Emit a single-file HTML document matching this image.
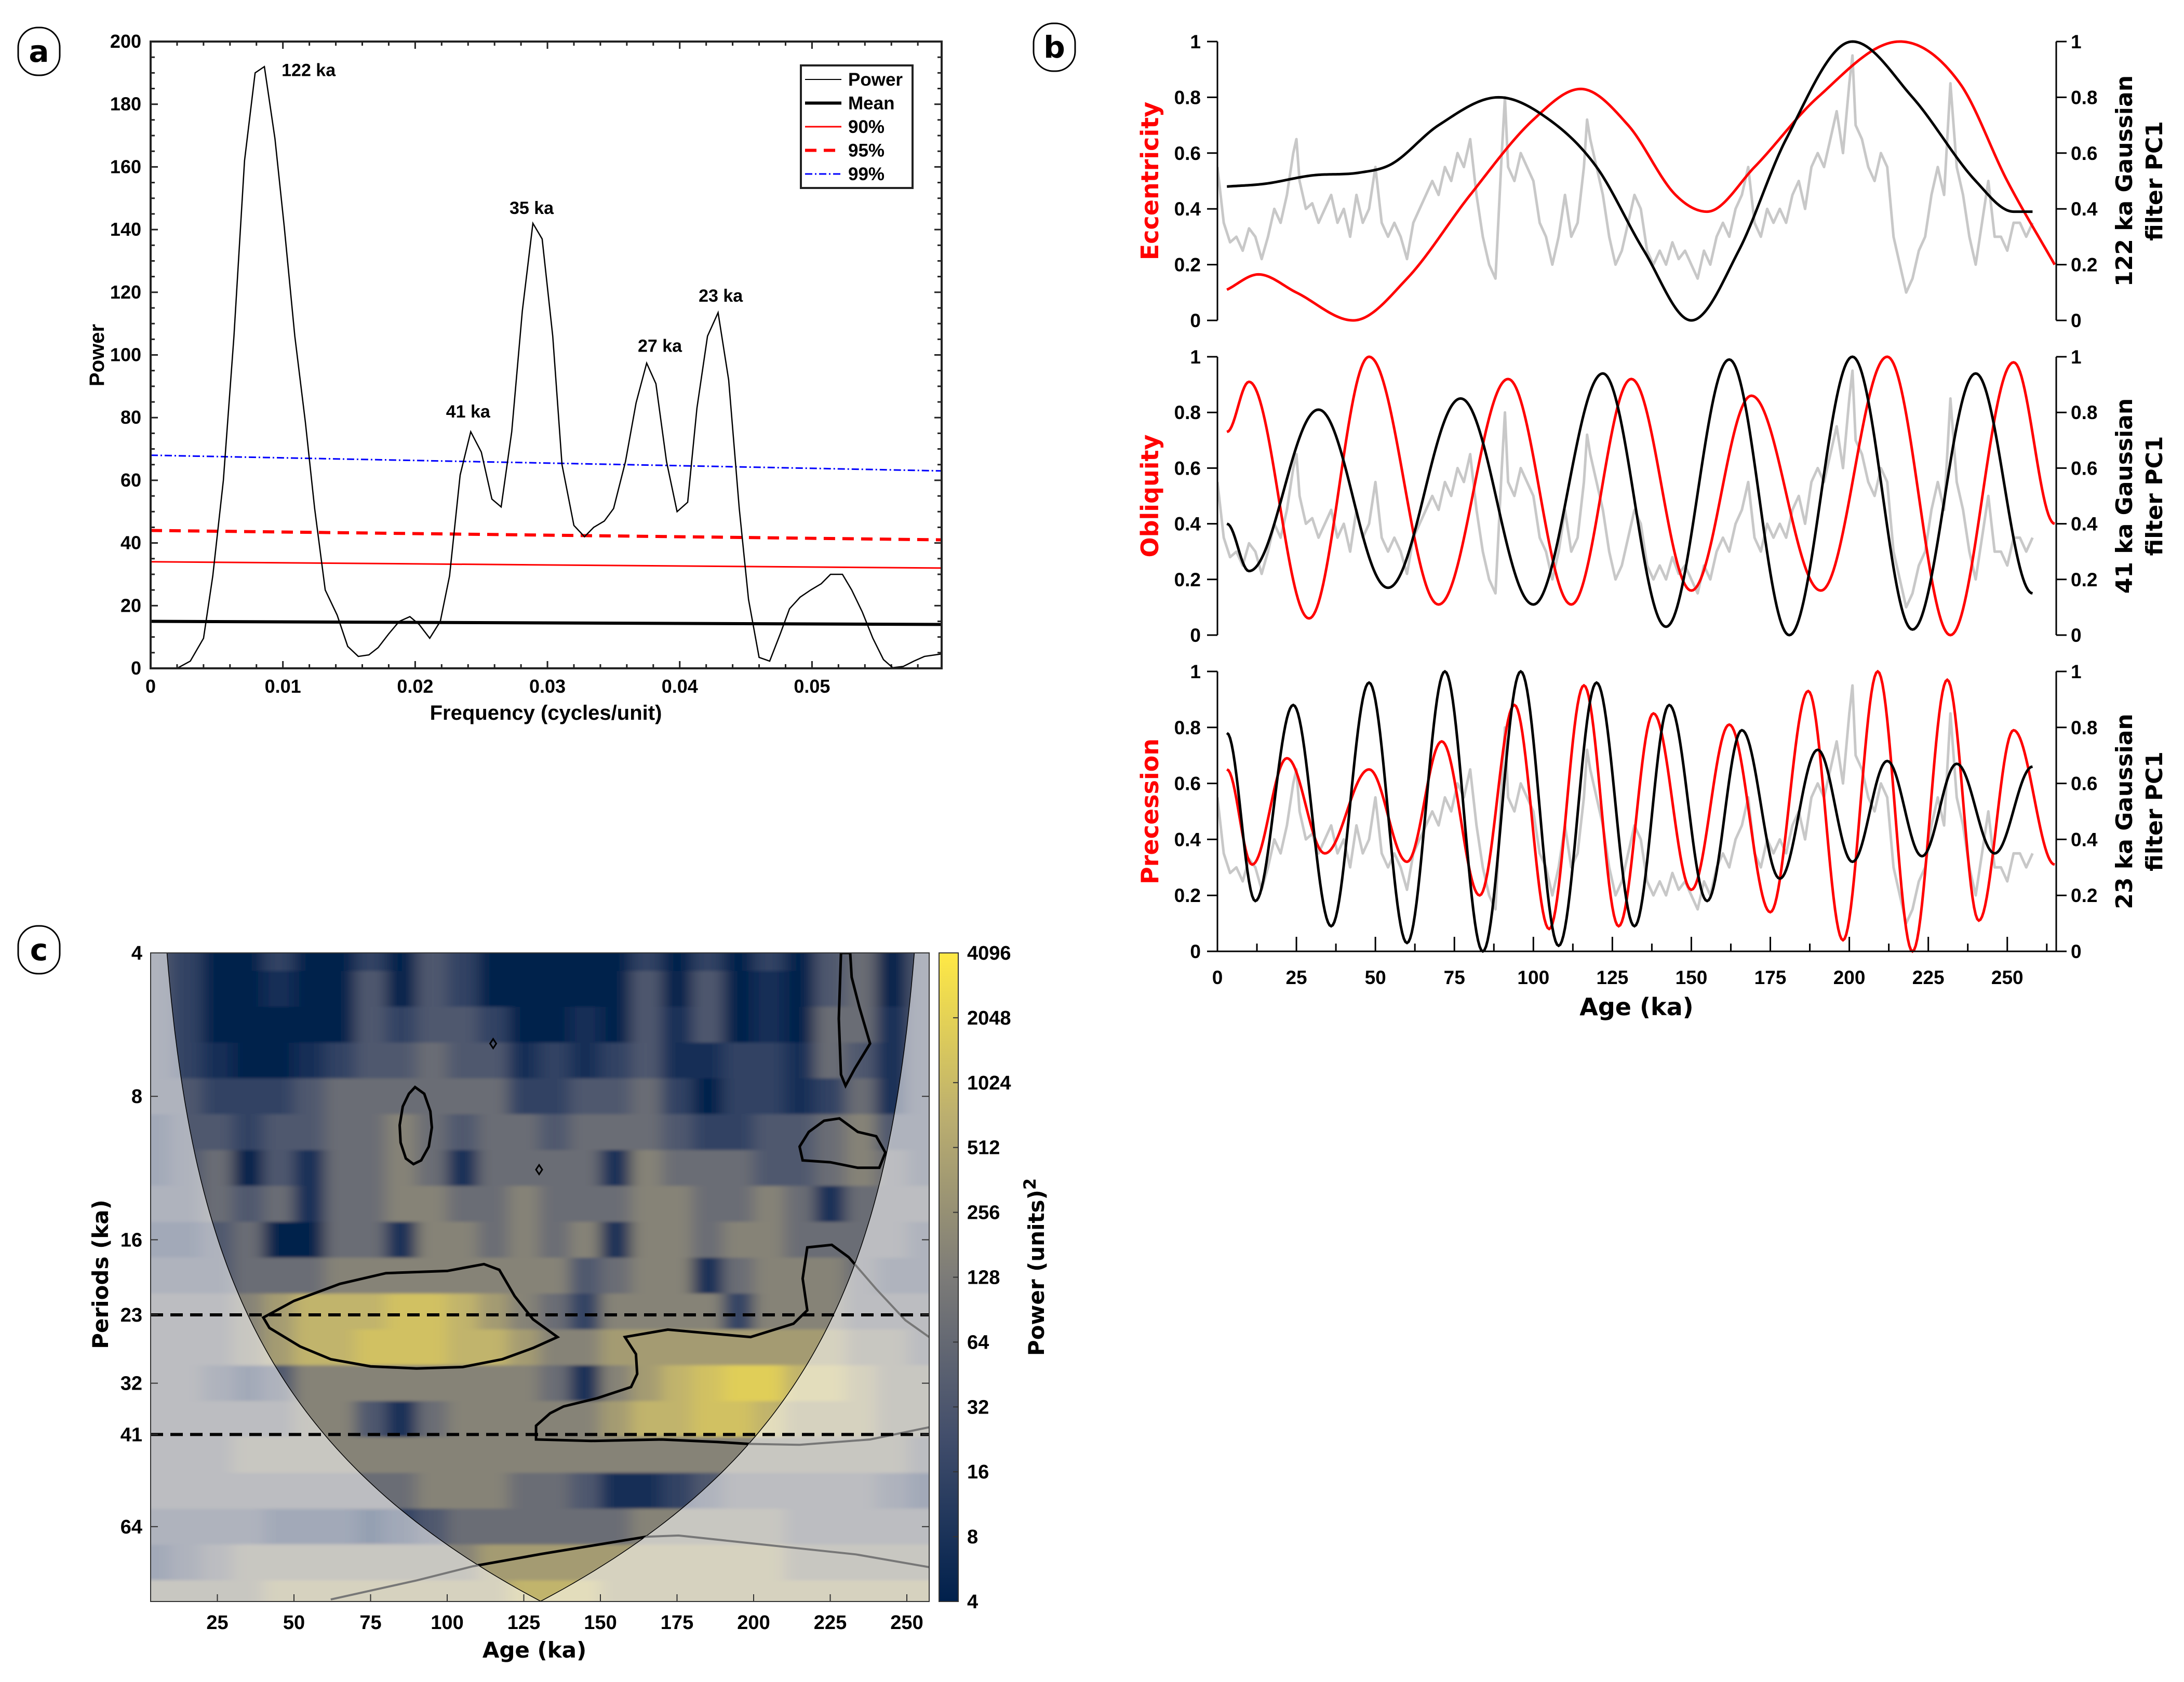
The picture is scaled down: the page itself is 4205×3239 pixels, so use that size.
<!DOCTYPE html>
<html><head><meta charset="utf-8">
<style>
html,body{margin:0;padding:0;background:#fff;}
svg{display:block;}
text{font-family:"Liberation Sans",sans-serif;font-weight:bold;}
.dv{font-family:"DejaVu Sans","Liberation Sans",sans-serif;font-weight:bold;}
</style></head>
<body>
<svg id="fig" xmlns="http://www.w3.org/2000/svg" width="4205" height="3239" viewBox="0 0 4205 3239">
<defs>
<filter id="blurA" x="-10%" y="-10%" width="120%" height="120%"><feGaussianBlur stdDeviation="15 3"/></filter>
<clipPath id="clipC"><rect x="290" y="1835" width="1499" height="1249"/></clipPath>
<clipPath id="clipB1"><rect x="2344" y="60" width="1615" height="580"/></clipPath>
<clipPath id="clipB2"><rect x="2344" y="667" width="1615" height="580"/></clipPath>
<clipPath id="clipB3"><rect x="2344" y="1273" width="1615" height="580"/></clipPath>
<linearGradient id="cbGrad" x1="0" y1="1" x2="0" y2="0">
<stop offset="0" stop-color="#00204c"/><stop offset="0.25" stop-color="#414d6b"/>
<stop offset="0.5" stop-color="#7c7b78"/><stop offset="0.75" stop-color="#bcaf6f"/>
<stop offset="1" stop-color="#ffe945"/></linearGradient>
</defs>
</svg>
<script>
// ---------- Panel A data ----------
const freqA=[0,0.002,0.003,0.004,0.0047,0.0055,0.0063,0.0071,0.0079,0.0086,0.0094,0.0101,0.0109,0.0117,0.0124,0.0132,0.0141,0.0149,0.0157,0.0165,0.0172,0.018,0.0188,0.0196,0.0203,0.0211,0.0219,0.0226,0.0234,0.0242,0.025,0.0258,0.0265,0.0273,0.0281,0.0289,0.0296,0.0304,0.0311,0.032,0.0328,0.0335,0.0343,0.035,0.0359,0.0367,0.0375,0.0382,0.039,0.0398,0.0406,0.0413,0.0421,0.0429,0.0437,0.0445,0.0452,0.046,0.0468,0.0476,0.0483,0.0491,0.0499,0.0507,0.0514,0.0523,0.053,0.0538,0.0546,0.0554,0.0561,0.0569,0.0577,0.0585,0.0598];
const powerA=[0,0,2.3,9.6,29.5,60,106,162,190,192,169,141,106,78.5,51,25,17,7,3.8,4.3,6.6,11,15,16.5,14,9.6,15,29.5,61.7,75.5,69,54,51.5,75.5,114,142,137,106,65,45.6,42,45,47,51,66,84.7,97.4,90.8,66,50,53,83,106,113.5,92,51,22,3.5,2.3,11,19,22.7,25,27,30,30,25,18,9.6,2.8,0.2,0.6,2.3,3.8,4.6];
const levelNames=['Mean','90%','95%','99%'];
const levelStart=[15,34,44,68];
const levelEnd=[14,32,41,63];
const peakLabels=['122 ka','41 ka','35 ka','27 ka','23 ka'];
const peakFreq=[0.0099,0.0240,0.0288,0.0385,0.0431];
const peakPow=[189,80,145,101,117];
const xTicksA=[0,0.01,0.02,0.03,0.04,0.05];
const yTicksA=[0,20,40,60,80,100,120,140,160,180,200];

// ---------- Panel B data ----------
const pcAge=[0,2,4,6,8,10,12,14,16,18,20,22,24,25,26,28,30,32,34,36,38,40,42,44,46,48,50,52,54,56,58,60,62,64,66,68,70,72,74,76,78,80,82,84,86,88,90,91,92,94,96,98,100,102,104,106,108,110,112,114,116,117,118,120,122,124,126,128,130,132,134,136,138,140,142,144,146,148,150,152,154,156,158,160,162,164,166,168,170,172,174,176,178,180,182,184,186,188,190,192,194,196,198,200,201,202,204,206,208,210,212,214,216,218,220,222,224,226,228,230,232,234,236,238,240,242,244,246,248,250,252,254,256,258];
const pcVal=[0.55,0.35,0.28,0.3,0.25,0.33,0.3,0.22,0.3,0.4,0.35,0.45,0.6,0.65,0.5,0.4,0.42,0.35,0.4,0.45,0.35,0.4,0.3,0.45,0.35,0.4,0.55,0.35,0.3,0.35,0.3,0.22,0.35,0.4,0.45,0.5,0.45,0.55,0.5,0.6,0.55,0.65,0.45,0.3,0.2,0.15,0.6,0.8,0.55,0.5,0.6,0.55,0.5,0.35,0.3,0.2,0.3,0.45,0.3,0.35,0.55,0.72,0.65,0.55,0.45,0.3,0.2,0.25,0.35,0.45,0.4,0.25,0.2,0.25,0.2,0.28,0.22,0.25,0.2,0.15,0.25,0.2,0.3,0.35,0.3,0.4,0.45,0.55,0.35,0.3,0.4,0.35,0.4,0.35,0.45,0.5,0.4,0.55,0.6,0.55,0.65,0.75,0.6,0.85,0.95,0.7,0.65,0.55,0.5,0.6,0.55,0.3,0.2,0.1,0.15,0.25,0.3,0.45,0.55,0.45,0.85,0.55,0.45,0.3,0.2,0.35,0.5,0.3,0.3,0.25,0.35,0.35,0.3,0.35];
const eccBlackAge=[3,15,30,45,55,70,89,105,120,135,150,165,180,201,220,240,252,258];
const eccBlackVal=[0.48,0.49,0.52,0.53,0.56,0.7,0.8,0.72,0.55,0.25,0.0,0.25,0.65,1.0,0.8,0.5,0.39,0.39];
const eccRedAge=[3,13,25,43,60,80,100,115,130,145,155,170,190,216,235,250,265];
const eccRedVal=[0.11,0.165,0.1,0.0,0.15,0.45,0.72,0.83,0.7,0.45,0.39,0.55,0.8,1.0,0.85,0.5,0.2];
const oblBlackAge=[3,10,32,54,77,100,122,142,162,181,201,220,240,258];
const oblBlackVal=[0.4,0.23,0.81,0.17,0.85,0.11,0.94,0.03,0.99,0.0,1.0,0.02,0.94,0.15];
const oblRedAge=[3,10,29,48,70,92,112,131,150,169,191,212,232,252,265];
const oblRedVal=[0.73,0.91,0.06,1.0,0.11,0.92,0.11,0.92,0.16,0.86,0.16,1.0,0.0,0.98,0.4];
const preBlackAge=[3,12,24,36,48,60,72,84,96,108,120,132,143,155,166,178,190,201,212,223,234,246,258];
const preBlackVal=[0.78,0.18,0.88,0.09,0.96,0.03,1.0,0.0,1.0,0.02,0.96,0.09,0.88,0.18,0.79,0.26,0.72,0.32,0.68,0.34,0.67,0.35,0.66];
const preRedAge=[3,11,22,34,48,60,71,83,94,105,116,127,138,150,162,175,187,198,209,220,231,241,252,265];
const preRedVal=[0.65,0.31,0.69,0.35,0.65,0.32,0.75,0.2,0.88,0.08,0.95,0.09,0.85,0.22,0.81,0.14,0.93,0.04,1.0,0.0,0.97,0.11,0.79,0.31];
const bTicksX=[0,25,50,75,100,125,150,175,200,225,250];
const bTicksY=[0,0.2,0.4,0.6,0.8,1];

// ---------- Panel C data ----------
const cAges=[5,15,25,35,45,55,65,75,85,95,105,115,125,135,145,155,165,175,185,195,205,215,225,235,245,255];
const cPeriods=[4,4.76,5.66,6.73,8,9.51,11.31,13.45,16,19.03,22.63,26.91,32,38.05,45.25,53.82,64,76.11,90.51];
const cPow=[
[6,5,3,3,5,3,3,5,3,6,5,3,3,3,3,3,5,3,5,3,5,3,6,7,3,6],
[6,5,3,3,4,3,3,6,3,6,5,3,3,3,3,3,6,3,6,3,4,3,6,7,3,6],
[6,5,3,3,3,3,3,6,5,6,6,5,3,3,4,3,6,4,6,3,4,3,7,7,4,6],
[6,5,4,3,3,4,5,6,6,7,6,6,4,5,4,5,6,4,4,5,5,4,7,6,4,6],
[6,6,5,5,5,6,7,7,7,7,7,7,5,5,6,6,7,5,3,5,5,4,5,7,4,6],
[5,6,6,5,6,6,7,7,8,7,6,7,7,6,7,7,7,6,5,5,6,6,7,8,6,6],
[5,6,7,3,6,4,7,7,8,7,4,7,7,7,7,4,8,7,7,7,6,6,7,8,7,6],
[6,6,7,6,7,4,7,7,8,8,7,7,8,7,7,7,8,8,7,7,8,7,4,7,7,7],
[5,5,6,7,3,3,7,7,4,8,8,7,8,7,8,4,8,8,7,8,8,7,7,7,7,6],
[6,6,6,7,7,7,8,8,8,8,8,8,8,8,6,7,8,8,4,7,8,8,8,7,6,6],
[7,7,7,8,9,10,10,10,10.5,10.5,10,9,8,7,5,8,8,8,8,5,8,8,8,7,7,7],
[7,7,7,8,9,10,10,10.5,10.5,10.5,10,10,9,8,8,9,9,9,9,9,9,9,9,8,8,7],
[7,7,6,5,6,8,8,8,8,8,8,8,8,7,4,8,9,10,10.5,11,11,10,10,9,8,8],
[7,7,7,7,7,8,8,6,4,7,8,8,8,8,8,9,10,10,10.5,10.5,10,9,9,9,8,8],
[7,7,7,8,8,8,8,8,8,8,8,8,8,8,8,8,8,8,8,8,8,8,8,8,8,7],
[7,7,7,7,7,7,7,7,7,8,8,8,7,7,6,4,4,5,6,7,7,7,7,7,6,5],
[6,6,6,6,5,5,5,4,5,6,7,7,7,7,7,7,8,8,8,8,8,7,7,7,7,7],
[5,6,7,8,8,8,8,8,8,8,8,9,9,9,9,9,9,9,9,9,9,8,8,8,8,8],
[8,8,8,8,9,9,9,9,9,9,9,9,10,10,10,9,9,9,9,9,9,9,9,9,9,9]];
const blobLeftAge=[40,50,65,80,100,112,117,122,128,136,128,118,105,90,75,62,52,42,40];
const blobLeftPer=[23.3,21.5,19.8,18.8,18.6,18.0,18.5,21,23.5,25.6,27.0,28.5,29.6,29.8,29.5,28.5,26.8,24.5,23.3];
const blobRightAge=[217.5,225.5,231,240,249.5,258,258,238,215,198,188,170,147,129,129,133.6,138,149,160,162,161.6,158,172,199,213,217.5,216,217.5];
const blobRightPer=[16.6,16.4,17.4,20.3,23.6,25.8,39.5,42,43.1,42.9,42.5,42,42.3,42,39.3,37,35.8,34.4,32.6,30.6,27.8,25.6,24.7,25.6,24,22.5,19.3,16.6];
const loopTopAge=[228.5,227.8,228.5,230,233,238,234.5,232,231.5];
const loopTopPer=[4,5.5,7.2,7.6,7.0,6.2,5.2,4.5,4];
const loopSmallAge=[215,218,223,228,234,240,243,241,234,225,216,215];
const loopSmallPer=[10.2,9.5,9.0,8.9,9.5,9.7,10.5,11.3,11.3,11.0,10.9,10.2];
const loopEllAge=[89.5,92.5,94.5,95,94,91.5,89,86.5,84.8,84.5,85.5,87.5,89.5];
const loopEllPer=[7.65,7.9,8.6,9.3,10.2,10.9,11.1,10.8,10.0,9.2,8.4,7.9,7.65];
const bottomAge=[62,90,108.4,131,165,175.5,204,233.4,258];
const bottomPer=[91,83,77.5,73,67.2,66.8,69.9,73.2,78];
const dashPeriods=[23,41];
const cTicksX=[25,50,75,100,125,150,175,200,225,250];
const cTicksY=[4,8,16,23,32,41,64];
const cbLabels=['4','8','16','32','64','128','256','512','1024','2048','4096'];

// ---------- helpers ----------
const NS='http://www.w3.org/2000/svg';
const svg=document.getElementById('fig');
function mk(tag,attrs,parent){const e=document.createElementNS(NS,tag);for(const k in attrs)e.setAttribute(k,attrs[k]);(parent||svg).appendChild(e);return e;}
function txt(s,attrs,parent){const e=mk('text',attrs,parent);e.textContent=s;return e;}
function cosInterp(ages,vals,step){const pts=[];for(let i=0;i<ages.length-1;i++){const a0=ages[i],a1=ages[i+1];for(let a=a0;a<a1;a+=step){const t=(a-a0)/(a1-a0);const m=(1-Math.cos(Math.PI*t))/2;pts.push([a,vals[i]+(vals[i+1]-vals[i])*m]);}}pts.push([ages[ages.length-1],vals[vals.length-1]]);return pts;}
function monoInterp(xs,ys,step){
 const n=xs.length,d=[],m=new Array(n);
 for(let i=0;i<n-1;i++)d.push((ys[i+1]-ys[i])/(xs[i+1]-xs[i]));
 m[0]=d[0];m[n-1]=d[n-2];
 for(let i=1;i<n-1;i++){m[i]=(d[i-1]*d[i]<=0)?0:(d[i-1]+d[i])/2;}
 const pts=[];
 for(let i=0;i<n-1;i++){const h=xs[i+1]-xs[i];for(let a=xs[i];a<xs[i+1];a+=step){const t=(a-xs[i])/h,t2=t*t,t3=t2*t;
  pts.push([a,(2*t3-3*t2+1)*ys[i]+(t3-2*t2+t)*h*m[i]+(-2*t3+3*t2)*ys[i+1]+(t3-t2)*h*m[i+1]]);}}
 pts.push([xs[n-1],ys[n-1]]);return pts;}

// ---------- panel labels ----------
function panelLetter(ch,cx,cy,name){
  let g=mk('g',{});
  
  
  mk('rect',{x:cx-40,y:cy-46,width:80,height:92,rx:38,ry:38,fill:'#fff',stroke:'#000','stroke-width':3},g);
  txt(ch,{x:cx,y:cy+20,'text-anchor':'middle','font-size':58,class:'dv'},g);
}
panelLetter('a',75,99,'panel-a-label');
panelLetter('b',2030,91,'panel-b-label');
panelLetter('c',75,1829,'panel-c-label');

// ---------- Panel A ----------
(function(){
const L=290,R=1813,T=80,B=1287,XMAX=0.0598;
const X=f=>L+f/XMAX*(R-L), Y=p=>B-p/200*(B-T);
let g=mk('g',{});


for(let f=0;f<=XMAX+1e-9;f+=0.002){const x=X(f);const major=Math.abs(f/0.01-Math.round(f/0.01))<1e-6;const len=major?14:8;
 mk('line',{x1:x,y1:B,x2:x,y2:B-len,stroke:'#222','stroke-width':3},g);mk('line',{x1:x,y1:T,x2:x,y2:T+len,stroke:'#222','stroke-width':3},g);}
for(let p=0;p<=200;p+=5){const y=Y(p);const len=p%20===0?14:8;
 mk('line',{x1:L,y1:y,x2:L+len,y2:y,stroke:'#222','stroke-width':3},g);mk('line',{x1:R,y1:y,x2:R-len,y2:y,stroke:'#222','stroke-width':3},g);}
xTicksA.forEach(f=>{let t=txt(String(f),{x:X(f),y:1334,'text-anchor':'middle','font-size':36},g);
 
 });
yTicksA.forEach(p=>{let t=txt(String(p),{x:L-18,y:Y(p)+12,'text-anchor':'end','font-size':36},g);
 
 });
const lvStyles=[{s:'#000',w:6,d:''},{s:'#f00',w:3,d:''},{s:'#f00',w:6,d:'22 14'},{s:'#00f',w:3,d:'14 5 3 5'}];
levelNames.forEach((n,i)=>{let ln=mk('line',{x1:X(0),y1:Y(levelStart[i]),x2:X(XMAX),y2:Y(levelEnd[i]),stroke:lvStyles[i].s,'stroke-width':lvStyles[i].w,'stroke-dasharray':lvStyles[i].d},g);
 
 });
let pth=mk('polyline',{points:freqA.map((f,i)=>X(f)+','+Y(powerA[i])).join(' '),fill:'none',stroke:'#000','stroke-width':2.5},g);


peakLabels.forEach((s,i)=>{let t=txt(s,{x:X(peakFreq[i]),y:Y(peakPow[i]),'text-anchor':i===0?'start':'middle','font-size':34},g);
 
 });
let fr=mk('rect',{x:L,y:T,width:R-L,height:B-T,fill:'none',stroke:'#222','stroke-width':4},g);


let yt=txt('Power',{x:0,y:0,transform:'translate(200,684) rotate(-90)','text-anchor':'middle','font-size':40},g);


let xt=txt('Frequency (cycles/unit)',{x:1051,y:1386,'text-anchor':'middle','font-size':40},g);


let lg=mk('g',{},g);


mk('rect',{x:1542,y:126,width:215,height:236,fill:'#fff',stroke:'#222','stroke-width':4},lg);
const legNames=['Power'].concat(levelNames);
const legSt=[{s:'#000',w:2,d:''}].concat(lvStyles);
legNames.forEach((n,i)=>{const y=153+i*45.5;
 let e=mk('g',{},lg);
 
 
 mk('line',{x1:1550,y1:y,x2:1620,y2:y,stroke:legSt[i].s,'stroke-width':legSt[i].w,'stroke-dasharray':legSt[i].d},e);
 txt(n,{x:1633,y:y+12,'font-size':35},e);});
})();

// ---------- Panel B ----------
(function(){
const L=2344,R=3959,X=a=>L+a*6.083;
const subs=[{t:80,b:617,name:'eccentricity',label:'Eccentricity',r1:'122 ka Gaussian',clip:'clipB1',bk:[eccBlackAge,eccBlackVal],rd:[eccRedAge,eccRedVal],mono:true},
 {t:687,b:1223,name:'obliquity',label:'Obliquity',r1:'41 ka Gaussian',clip:'clipB2',bk:[oblBlackAge,oblBlackVal],rd:[oblRedAge,oblRedVal]},
 {t:1293,b:1832,name:'precession',label:'Precession',r1:'23 ka Gaussian',clip:'clipB3',bk:[preBlackAge,preBlackVal],rd:[preRedAge,preRedVal]}];
subs.forEach((s,si)=>{
 const Y=v=>s.b-v*(s.b-s.t);
 const interp=s.mono?monoInterp:cosInterp;
 let g=mk('g',{});
 
 
 let cg=mk('g',{'clip-path':'url(#'+s.clip+')'},g);
 let gr=mk('polyline',{points:pcAge.map((a,i)=>X(a)+','+Y(pcVal[i])).join(' '),fill:'none',stroke:'#c8c8c8','stroke-width':5,'stroke-linejoin':'round'},cg);
 
 
 let rp=interp(s.rd[0],s.rd[1],0.5);
 let rl=mk('polyline',{points:rp.map(p=>X(p[0])+','+Y(p[1])).join(' '),fill:'none',stroke:'#f00','stroke-width':5},cg);
 
 
 let bp=interp(s.bk[0],s.bk[1],0.5);
 let bl=mk('polyline',{points:bp.map(p=>X(p[0])+','+Y(p[1])).join(' '),fill:'none',stroke:'#000','stroke-width':5},cg);
 
 
 mk('line',{x1:L,y1:s.t,x2:L,y2:s.b,stroke:'#000','stroke-width':3},g);
 mk('line',{x1:R,y1:s.t,x2:R,y2:s.b,stroke:'#000','stroke-width':3},g);
 bTicksY.forEach(v=>{
  mk('line',{x1:L-20,y1:Y(v),x2:L,y2:Y(v),stroke:'#000','stroke-width':3},g);
  mk('line',{x1:R,y1:Y(v),x2:R+20,y2:Y(v),stroke:'#000','stroke-width':3},g);
  let a=txt(String(v),{x:L-32,y:Y(v)+13,'text-anchor':'end','font-size':37},g);
  
  
  let b=txt(String(v),{x:R+28,y:Y(v)+13,'font-size':37},g);
  
  });
 const cy=(s.t+s.b)/2;
 let lt=txt(s.label,{x:0,y:0,transform:'translate(2230,'+cy+') rotate(-90)','text-anchor':'middle','font-size':46,fill:'#f00',class:'dv'},g);
 
 
 let rt=txt(s.r1,{x:0,y:0,transform:'translate(4105,'+cy+') rotate(-90)','text-anchor':'middle','font-size':44,class:'dv'},g);
 
 
 let rt2=txt('filter PC1',{x:0,y:0,transform:'translate(4163,'+cy+') rotate(-90)','text-anchor':'middle','font-size':44,class:'dv'},g);
 
 
 if(si===2){
  mk('line',{x1:L,y1:s.b,x2:R,y2:s.b,stroke:'#000','stroke-width':3},g);
  for(let a=0;a<=265;a+=12.5){const major=a%25===0;mk('line',{x1:X(a),y1:s.b,x2:X(a),y2:s.b-(major?28:15),stroke:'#000','stroke-width':3},g);}
  bTicksX.forEach(a=>{let t=txt(String(a),{x:X(a),y:1895,'text-anchor':'middle','font-size':37},g);
   
   });
  let xt=txt('Age (ka)',{x:3151,y:1955,'text-anchor':'middle','font-size':46,class:'dv'},g);
  
  
 }
});
})();

// ---------- Panel C ----------
(function(){
const L=290,R=1789,T=1835,B=3084,K=276.2;
const X=a=>271+a*5.9, Y=p=>T+Math.log2(p/4)*K;
const stops=[[0,[0,32,76]],[0.25,[65,77,107]],[0.5,[124,123,120]],[0.75,[188,175,111]],[1,[255,233,69]]];
function cmap(v){let t=Math.max(0,Math.min(1,(v-3.3)/8.7));for(let i=0;i<stops.length-1;i++){if(t<=stops[i+1][0]){const u=(t-stops[i][0])/(stops[i+1][0]-stops[i][0]);const c=stops[i][1].map((c0,j)=>Math.round(c0+(stops[i+1][1][j]-c0)*u));return 'rgb('+c.join(',')+')';}}return 'rgb(255,233,69)';}
let g=mk('g',{});


let hm=mk('g',{'clip-path':'url(#clipC)'},g);


let bg=mk('g',{filter:'url(#blurA)'},hm);
cPeriods.forEach((p,ri)=>{
 let y0=Y(p)-K/8, y1=Y(p)+K/8;
 if(ri===0)y0-=80; if(ri===cPeriods.length-1)y1+=80;
 cAges.forEach((a,ci)=>{
  let x0=X(a-5), x1=X(a+5);
  if(ci===0)x0-=100; if(ci===cAges.length-1)x1+=100;
  let c=mk('rect',{x:x0,y:y0,width:x1-x0+1,height:y1-y0+1,fill:cmap(cPow[ri][ci])},bg);
  
  
 });
});
const k=0.72,a0=3,a1=258,pMax=4*Math.pow(2,(B-T)/K);
let cone=[];for(let p=4;p<=pMax;p*=1.03)cone.push([X(a0+p/k),Y(p)]);cone.push([X(a0+pMax/k),B]);
let rev=[];for(let p=4;p<=pMax;p*=1.03)rev.push([X(a1-p/k),Y(p)]);rev.push([X(a1-pMax/k),B]);rev.reverse();
const conePts=cone.concat(rev);
const coneD='M'+conePts.map(p=>p[0].toFixed(1)+','+p[1].toFixed(1)).join('L')+'Z';
let ov=mk('path',{d:'M'+L+','+T+'H'+R+'V'+B+'H'+L+'Z '+coneD,fill:'#fff','fill-opacity':0.55,'fill-rule':'evenodd'},hm);


let ol=mk('path',{d:coneD,fill:'none',stroke:'#000','stroke-width':1.5},hm);


mk('clipPath',{id:'coneClip'},svg.querySelector('defs'));
mk('path',{d:coneD},document.getElementById('coneClip'));
function contour(ages,pers,name,closed){
 const d='M'+ages.map((a,i)=>X(a).toFixed(1)+','+Y(pers[i]).toFixed(1)).join('L')+(closed?'Z':'');
 let gl=mk('path',{d:d,fill:'none',stroke:'#777','stroke-width':4},hm);
 
 
 let bl=mk('path',{d:d,fill:'none',stroke:'#000','stroke-width':5,'clip-path':'url(#coneClip)'},hm);
 
 
}
contour(blobLeftAge,blobLeftPer,'significance-contour',true);
contour(blobRightAge,blobRightPer,'significance-contour',true);
contour(loopTopAge,loopTopPer,'significance-contour',true);
contour(loopSmallAge,loopSmallPer,'significance-contour',true);
contour(loopEllAge,loopEllPer,'significance-contour',true);
contour(bottomAge,bottomPer,'significance-contour',false);
[[115,6.2],[130,11.4]].forEach(pt=>{let d=mk('path',{d:'M'+X(pt[0])+','+(Y(pt[1])-9)+'l6,9l-6,9l-6,-9Z',fill:'none',stroke:'#000','stroke-width':3},hm);
 
 });
dashPeriods.forEach(p=>{let l=mk('line',{x1:L,y1:Y(p),x2:R,y2:Y(p),stroke:'#000','stroke-width':6,'stroke-dasharray':'24 14'},g);
 
 });
mk('rect',{x:L,y:T,width:R-L,height:B-T,fill:'none',stroke:'#333','stroke-width':2},g);
cTicksX.forEach(a=>{mk('line',{x1:X(a),y1:B,x2:X(a),y2:B-14,stroke:'#333','stroke-width':2},g);
 let t=txt(String(a),{x:X(a),y:3137,'text-anchor':'middle','font-size':38},g);
 
 });
cTicksY.forEach(p=>{mk('line',{x1:L,y1:Y(p),x2:L+14,y2:Y(p),stroke:'#333','stroke-width':2},g);mk('line',{x1:R,y1:Y(p),x2:R-14,y2:Y(p),stroke:'#333','stroke-width':2},g);
 let t=txt(String(p),{x:L-16,y:Y(p)+13,'text-anchor':'end','font-size':38},g);
 
 });
let xt=txt('Age (ka)',{x:1029,y:3192,'text-anchor':'middle','font-size':42,class:'dv'},g);


let yt=txt('Periods (ka)',{x:0,y:0,transform:'translate(208,2454) rotate(-90)','text-anchor':'middle','font-size':42,class:'dv'},g);


let cb=mk('g',{},g);


mk('rect',{x:1808,y:T,width:37,height:B-T,fill:'url(#cbGrad)',stroke:'#333','stroke-width':2},cb);
cbLabels.forEach((s,i)=>{const y=B-i*(B-T)/10;
 mk('line',{x1:1845,y1:y,x2:1835,y2:y,stroke:'#333','stroke-width':2},cb);
 let t=txt(s,{x:1862,y:y+13,'font-size':38},cb);
 
 });
let ct=mk('text',{x:0,y:0,transform:'translate(2010,2440) rotate(-90)','text-anchor':'middle','font-size':42,class:'dv'},cb);
ct.textContent='Power (units)';
let sup=mk('tspan',{dy:-16,'font-size':32},ct);sup.textContent='2';


})();
</script>
</body></html>
